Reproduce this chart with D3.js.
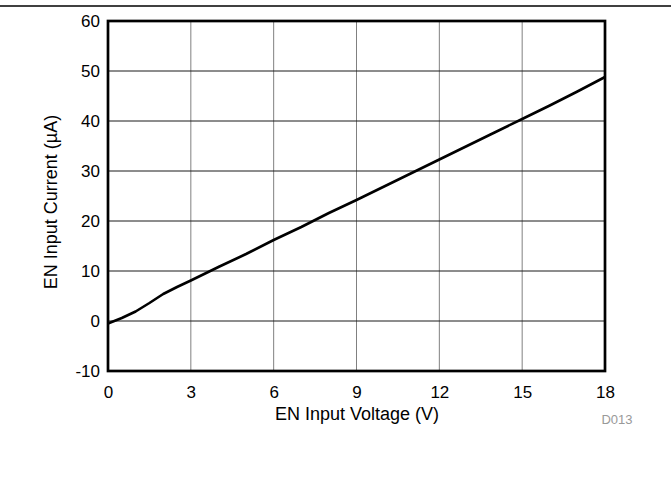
<!DOCTYPE html>
<html>
<head>
<meta charset="utf-8">
<script src="https://cdn.jsdelivr.net/npm/d3@7"></script>
<style>
  html, body { margin: 0; padding: 0; background: #fff; }
  svg { display: block; font-family: "Liberation Sans", Arial, sans-serif; }
</style>
</head>
<body>
<svg id="chart" width="671" height="478"></svg>
<script>
// Data
const voltage = [0, 0.5, 1, 1.5, 2, 2.5, 3, 4, 5, 6, 7, 8, 9, 10, 11, 12, 13, 14, 15, 16, 17, 18];
const current = [-0.5, 0.6, 1.9, 3.6, 5.4, 6.8, 8.1, 10.8, 13.4, 16.2, 18.8, 21.6, 24.2, 26.9, 29.6, 32.3, 35.0, 37.7, 40.4, 43.1, 45.9, 48.8];
const xTicks = [0, 3, 6, 9, 12, 15, 18];
const yTicks = [-10, 0, 10, 20, 30, 40, 50, 60];
const xTitle = "EN Input Voltage (V)";
const yTitle = "EN Input Current (\u00B5A)";
const note = "D013";

(function () {
const svg = d3.select("#chart");
const W = 671;
const pL = 108, pR = 605, pT = 21, pB = 371;
const FONT = "'Liberation Sans', Arial, sans-serif";

const x = d3.scaleLinear().domain([0, 18]).range([pL, pR]);
const y = d3.scaleLinear().domain([-10, 60]).range([pB, pT]);

// top rule
svg.append("line").attr("x1", 0).attr("x2", W).attr("y1", 6).attr("y2", 6)
  .attr("stroke", "#000").attr("stroke-width", 1.5);

// grid
svg.append("g").selectAll("line").data(xTicks.slice(1, -1)).join("line")
  .attr("x1", d => x(d)).attr("x2", d => x(d)).attr("y1", pT).attr("y2", pB)
  .attr("stroke", "#808080").attr("stroke-width", 1);
svg.append("g").selectAll("line").data(yTicks.slice(1, -1)).join("line")
  .attr("x1", pL).attr("x2", pR).attr("y1", d => y(d)).attr("y2", d => y(d))
  .attr("stroke", "#1a1a1a").attr("stroke-width", 1);

// axes via d3 axis (labels only)
const xAxis = svg.append("g").attr("transform", `translate(0,${pB})`)
  .call(d3.axisBottom(x).tickValues(xTicks).tickSize(0).tickPadding(15).tickFormat(d => String(d)));
xAxis.select(".domain").remove();
xAxis.selectAll("text").attr("font-size", 17).attr("fill", "#000").attr("font-family", FONT);

const yAxis = svg.append("g").attr("transform", `translate(${pL},0)`)
  .call(d3.axisLeft(y).tickValues(yTicks).tickSize(0).tickPadding(8).tickFormat(d => String(d)));
yAxis.select(".domain").remove();
yAxis.selectAll("text").attr("font-size", 17).attr("fill", "#000").attr("font-family", FONT);

// curve
const line = d3.line().x((d, i) => x(voltage[i])).y(d => y(d));
svg.append("path").datum(current)
  .attr("d", line).attr("fill", "none").attr("stroke", "#000")
  .attr("stroke-width", 2.6).attr("stroke-linejoin", "round");

// frame
svg.append("rect").attr("x", pL).attr("y", pT).attr("width", pR - pL).attr("height", pB - pT)
  .attr("fill", "none").attr("stroke", "#000").attr("stroke-width", 2.7);

// titles
svg.append("text").attr("x", 357).attr("y", 420)
  .attr("text-anchor", "middle").attr("font-size", 18).attr("fill", "#000")
  .text(xTitle);
svg.append("text").attr("transform", `translate(57,202) rotate(-90)`)
  .attr("text-anchor", "middle").attr("font-size", 18).attr("fill", "#000")
  .text(yTitle);

svg.append("text").attr("x", 617).attr("y", 424)
  .attr("text-anchor", "middle").attr("font-size", 13).attr("fill", "#999")
  .text(note);
})();
</script>
</body>
</html>
